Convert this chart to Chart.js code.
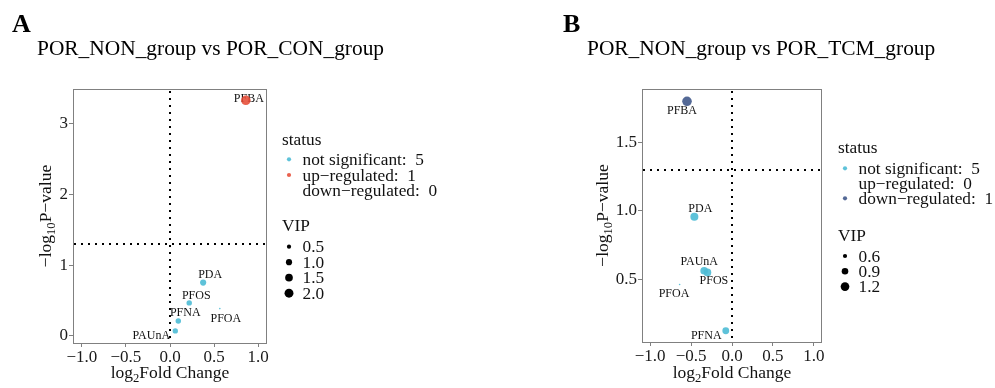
<!DOCTYPE html>
<html><head><meta charset="utf-8">
<script src="https://cdn.jsdelivr.net/npm/chart.js@4.4.0/dist/chart.umd.min.js"></script>
<style>
html,body{margin:0;padding:0;background:#fff;}
#wrap{position:relative;width:995px;height:388px;overflow:hidden;background:#fff;}
canvas{position:absolute;top:0;}
</style></head><body>
<div id="wrap">
<canvas id="cA" width="497" height="388" style="left:0;width:497px;height:388px"></canvas>
<canvas id="cB" width="498" height="388" style="left:497px;width:498px;height:388px"></canvas>
</div>
<script>
// ---------------- DATA ----------------
const xTicks = [-1.0, -0.5, 0.0, 0.5, 1.0];
const yTicksA = [0, 1, 2, 3];
const yTicksB = [0.5, 1.0, 1.5];

const compoundsA = ['PFBA', 'PDA', 'PFOS', 'PFNA', 'PAUnA', 'PFOA'];
const log2fcA    = [0.86, 0.376, 0.218, 0.094, 0.06, 0.565];
const negLogPA   = [3.33, 0.754, 0.467, 0.212, 0.071, 0.386];
const vipA       = [2.3, 1.0, 0.8, 0.8, 0.78, 0.1];
const statusA    = ['up', 'ns', 'ns', 'ns', 'ns', 'ns'];
const vipBreaksA = [0.5, 1.0, 1.5, 2.0];

const compoundsB = ['PFBA', 'PDA', 'PAUnA', 'PFOS', 'PFOA', 'PFNA'];
const log2fcB    = [-0.55, -0.46, -0.34, -0.30, -0.64, -0.076];
const negLogPB   = [1.80, 0.956, 0.561, 0.549, 0.461, 0.122];
const vipB       = [1.35, 1.1, 1.05, 1.05, 0.35, 0.93];
const statusB    = ['down', 'ns', 'ns', 'ns', 'ns', 'ns'];
const vipBreaksB = [0.6, 0.9, 1.2];

const statusKeys   = ['ns', 'up', 'down'];
const statusNames  = ['not significant', 'up\u2212regulated', 'down\u2212regulated'];
const pThreshold = 1.3;   // -log10(0.05)
const fcThreshold = 0;

// ---------------- STYLE ----------------
const FONT = "'Liberation Serif','Times New Roman',serif";
const COLORS = { ns: 'rgba(77,187,213,0.9)', up: 'rgba(230,75,53,0.88)', down: 'rgba(60,84,136,0.88)' };
const GREY = '#808080';
const SIZE_K = 1.6;

function sizeScale(vals) {
  const mn = Math.sqrt(Math.min(...vals)), mx = Math.sqrt(Math.max(...vals));
  return v => {
    const s = 1 + 5 * (Math.sqrt(v) - mn) / (mx - mn);
    return Math.max(0.5, s * SIZE_K / 2);
  };
}

const panels = {
  cA: {
    letter: 'A', letterX: 12, titleText: 'POR_NON_group vs POR_CON_group', titleX: 37,
    compounds: compoundsA, status: statusA, vip: vipA, vipBreaks: vipBreaksA,
    yDigits: 0,
    labelOff: { PFBA: [3, -1.5], PDA: [7, -8], PFOS: [7, -7.5], PFNA: [7, -8], PFOA: [6, 10.5], PAUnA: [-24, 4.5] },
    legX: 282, statusTitleY: 140, statusY0: 159.3, statusStep: 15.7,
    vipTitleY: 226, vipY0: 246.7, vipStep: 15.5,
    yTitleX: 45
  },
  cB: {
    letter: 'B', letterX: 66, titleText: 'POR_NON_group vs POR_TCM_group', titleX: 90,
    compounds: compoundsB, status: statusB, vip: vipB, vipBreaks: vipBreaksB,
    yDigits: 1,
    labelOff: { PFBA: [-5, 9.5], PDA: [6, -8], PAUnA: [-5, -8.5], PFOS: [6.5, 8.7], PFOA: [-5.6, 9], PFNA: [-19.5, 5.3] },
    legX: 341, statusTitleY: 148, statusY0: 168.3, statusStep: 15,
    vipTitleY: 236.7, vipY0: 256, vipStep: 15.3,
    yTitleX: 105
  }
};

function drawRich(ctx, parts, cx, cy, size) {
  let w = 0;
  parts.forEach(p => { ctx.font = (p.sub ? size * 0.72 : size) + 'px ' + FONT; p.w = ctx.measureText(p.t).width; w += p.w; });
  let x = cx - w / 2;
  ctx.textAlign = 'left'; ctx.textBaseline = 'alphabetic';
  const base = cy + size * 0.33;
  parts.forEach(p => {
    ctx.font = (p.sub ? size * 0.72 : size) + 'px ' + FONT;
    ctx.fillText(p.t, x, base + (p.sub ? size * 0.22 : 0));
    x += p.w;
  });
}

const decoPlugin = {
  id: 'deco',
  beforeDatasetsDraw(chart) {
    const P = panels[chart.canvas.id];
    const ctx = chart.ctx, a = chart.chartArea, xs = chart.scales.x, ys = chart.scales.y;
    ctx.save();
    ctx.strokeStyle = '#000'; ctx.lineWidth = 2; ctx.setLineDash([2, 5]); ctx.lineCap = 'butt';
    const vx = Math.round(xs.getPixelForValue(fcThreshold));
    ctx.beginPath(); ctx.moveTo(vx, a.top + 2); ctx.lineTo(vx, a.bottom); ctx.stroke();
    const hy = Math.round(ys.getPixelForValue(pThreshold));
    ctx.beginPath(); ctx.moveTo(a.left + 1, hy); ctx.lineTo(a.right, hy); ctx.stroke();
    ctx.setLineDash([]);
    const meta = chart.getDatasetMeta(0);
    ctx.fillStyle = '#111'; ctx.font = '12px ' + FONT; ctx.textAlign = 'center'; ctx.textBaseline = 'middle';
    meta.data.forEach((el, i) => {
      const name = P.compounds[i];
      const off = P.labelOff[name] || [0, -8];
      ctx.fillText(name, el.x + off[0], el.y + off[1]);
    });
    ctx.restore();
  },
  afterDraw(chart) {
    const P = panels[chart.canvas.id];
    const ctx = chart.ctx, a = chart.chartArea;
    ctx.save();
    ctx.strokeStyle = GREY; ctx.lineWidth = 1;
    ctx.strokeRect(Math.round(a.left) + 0.5, Math.round(a.top) + 0.5, Math.round(a.right - a.left) - 1, Math.round(a.bottom - a.top));
    ctx.fillStyle = '#000'; ctx.textAlign = 'left'; ctx.textBaseline = 'alphabetic';
    ctx.font = 'bold 26px ' + FONT; ctx.fillText(P.letter, P.letterX, 32);
    ctx.font = '21.4px ' + FONT; ctx.fillText(P.titleText, P.titleX, 55);
    ctx.fillStyle = '#111';
    drawRich(ctx, [{ t: 'log' }, { t: '2', sub: true }, { t: 'Fold Change' }], (a.left + a.right) / 2, 372, 17.5);
    ctx.save();
    ctx.translate(P.yTitleX, (a.top + a.bottom) / 2); ctx.rotate(-Math.PI / 2);
    drawRich(ctx, [{ t: '\u2212log' }, { t: '10', sub: true }, { t: 'P\u2212value' }], 0, 0, 17.5);
    ctx.restore();
    const L = P.legX;
    ctx.fillStyle = '#111'; ctx.font = '17.3px ' + FONT; ctx.textBaseline = 'middle'; ctx.textAlign = 'left';
    ctx.fillText('status', L, P.statusTitleY);
    statusKeys.forEach((k, i) => {
      const n = P.status.filter(s => s === k).length;
      const y = P.statusY0 + i * P.statusStep;
      if (n > 0) { ctx.fillStyle = COLORS[k]; ctx.beginPath(); ctx.arc(L + 7, y, 2.1, 0, Math.PI * 2); ctx.fill(); }
      ctx.fillStyle = '#111';
      ctx.fillText(statusNames[i] + ':  ' + n, L + 20.5, y + 1);
    });
    ctx.fillText('VIP', L, P.vipTitleY);
    const rs = sizeScale(P.vip);
    P.vipBreaks.forEach((b, i) => {
      const y = P.vipY0 + i * P.vipStep;
      ctx.fillStyle = '#000'; ctx.beginPath(); ctx.arc(L + 7, y, rs(b), 0, Math.PI * 2); ctx.fill();
      ctx.fillStyle = '#111'; ctx.fillText(b.toFixed(1), L + 20.5, y + 1);
    });
    ctx.restore();
  }
};

function makeChart(id, fc, nlp, yMin, yMax, yTicks, area) {
  const P = panels[id];
  const rs = sizeScale(P.vip);
  const W = document.getElementById(id).width, H = 388;
  const fmt = (v, d) => v.toFixed(d).replace('-', '\u2212');
  return new Chart(document.getElementById(id), {
    type: 'scatter',
    data: { datasets: [{
      data: fc.map((x, i) => ({ x: x, y: nlp[i] })),
      backgroundColor: c => COLORS[P.status[c.dataIndex]],
      pointRadius: c => rs(P.vip[c.dataIndex]),
      pointHoverRadius: c => rs(P.vip[c.dataIndex]),
      pointBorderWidth: 0, borderWidth: 0
    }]},
    options: {
      responsive: false, animation: false, devicePixelRatio: 1,
      layout: { padding: { left: 0, top: area.top, right: W - area.right, bottom: 0 } },
      plugins: { legend: { display: false }, tooltip: { enabled: false }, title: { display: false } },
      scales: {
        x: {
          type: 'linear', min: -1.1, max: 1.1,
          afterBuildTicks: s => { s.ticks = xTicks.map(v => ({ value: v })); },
          afterFit: s => { s.height = H - area.bottom; },
          ticks: { callback: v => fmt(v, 1), font: { family: FONT, size: 17 }, color: '#1a1a1a', padding: 0, maxRotation: 0, autoSkip: false },
          grid: { display: true, drawOnChartArea: false, drawTicks: true, tickLength: 4, tickColor: GREY, color: GREY },
          border: { display: false }, title: { display: false }
        },
        y: {
          type: 'linear', min: yMin, max: yMax,
          afterBuildTicks: s => { s.ticks = yTicks.map(v => ({ value: v })); },
          afterFit: s => { s.width = area.left; },
          ticks: { callback: v => fmt(v, P.yDigits), font: { family: FONT, size: 17 }, color: '#1a1a1a', padding: 1, autoSkip: false },
          grid: { display: true, drawOnChartArea: false, drawTicks: true, tickLength: 4, tickColor: GREY, color: GREY },
          border: { display: false }, title: { display: false }
        }
      }
    },
    plugins: [decoPlugin]
  });
}

makeChart('cA', log2fcA, negLogPA, -0.1, 3.49, yTicksA, { left: 73, right: 267, top: 89, bottom: 343 });
makeChart('cB', log2fcB, negLogPB, 0.04, 1.89, yTicksB, { left: 145, right: 325, top: 89, bottom: 342 });
</script>
</body></html>
